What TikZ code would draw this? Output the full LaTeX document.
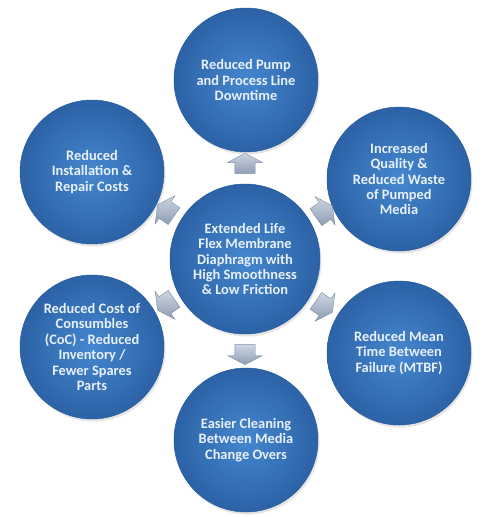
\documentclass[tikz,border=0pt]{standalone}
\usepackage{fontspec}
\setmainfont{Carlito}
\usetikzlibrary{shapes.arrows,shadows}
\definecolor{circin}{HTML}{4587CF}
\definecolor{circout}{HTML}{2C62A6}
\definecolor{circedge}{HTML}{2A5C9C}
\definecolor{textc}{HTML}{E8F0FA}
\definecolor{arrtop}{HTML}{CDD6E2}
\definecolor{arrbot}{HTML}{8E9DB3}
\definecolor{arredge}{HTML}{7A8AA3}
\begin{document}
\begin{tikzpicture}[x=1pt,y=-1pt,
  bubble/.style={circle, minimum size=144pt, inner sep=0pt, align=center,
    text=textc, font=\bfseries\fontsize{14.4}{15.4}\selectfont,
    inner color=circin, outer color=circout, draw=circedge, line width=0.5pt,
    drop shadow={opacity=0.2, shadow xshift=1.5pt, shadow yshift=-2.5pt}},
  blockarrow/.style={single arrow, minimum height=20pt, inner xsep=0pt, inner ysep=10pt,
    single arrow head extend=7pt, single arrow tip angle=125,
    shade, top color=arrtop, bottom color=arrbot, draw=arredge, line width=0.4pt,
    font=\tiny}]
\useasboundingbox[fill=white] (0,0) rectangle (490,517);

\node[bubble] (top) at (246,80) {Reduced Pump\\and Process Line\\Downtime};
\node[bubble] (ul) at (92,172) {Reduced\\Installation \&\\Repair Costs};
\node[bubble] (ur) at (399,179) {Increased\\Quality \&\\Reduced Waste\\of Pumped\\Media};
\node[bubble] (ll) at (92,347) {Reduced Cost of\\Consumbles\\(CoC) - Reduced\\Inventory /\\Fewer Spares\\Parts};
\node[bubble] (lr) at (399,353) {Reduced Mean\\Time Between\\Failure (MTBF)};
\node[bubble] (bot) at (246,440) {Easier Cleaning\\Between Media\\Change Overs};
\node[bubble, minimum size=150pt] (ctr) at (245,259) {Extended Life\\Flex Membrane\\Diaphragm with\\High Smoothness\\\& Low Friction};

\node[blockarrow, rotate=90] (aup) at (245,166) {};
\node[blockarrow, rotate=-90] (adn) at (245,352) {};
\node[blockarrow, rotate=145] (aul) at (168,212) {};
\node[blockarrow, rotate=35] (aur) at (322,213) {};
\node[blockarrow, rotate=215] (all) at (168,303) {};
\node[blockarrow, rotate=-35] (alr) at (322,305) {};
\end{tikzpicture}
\end{document}
